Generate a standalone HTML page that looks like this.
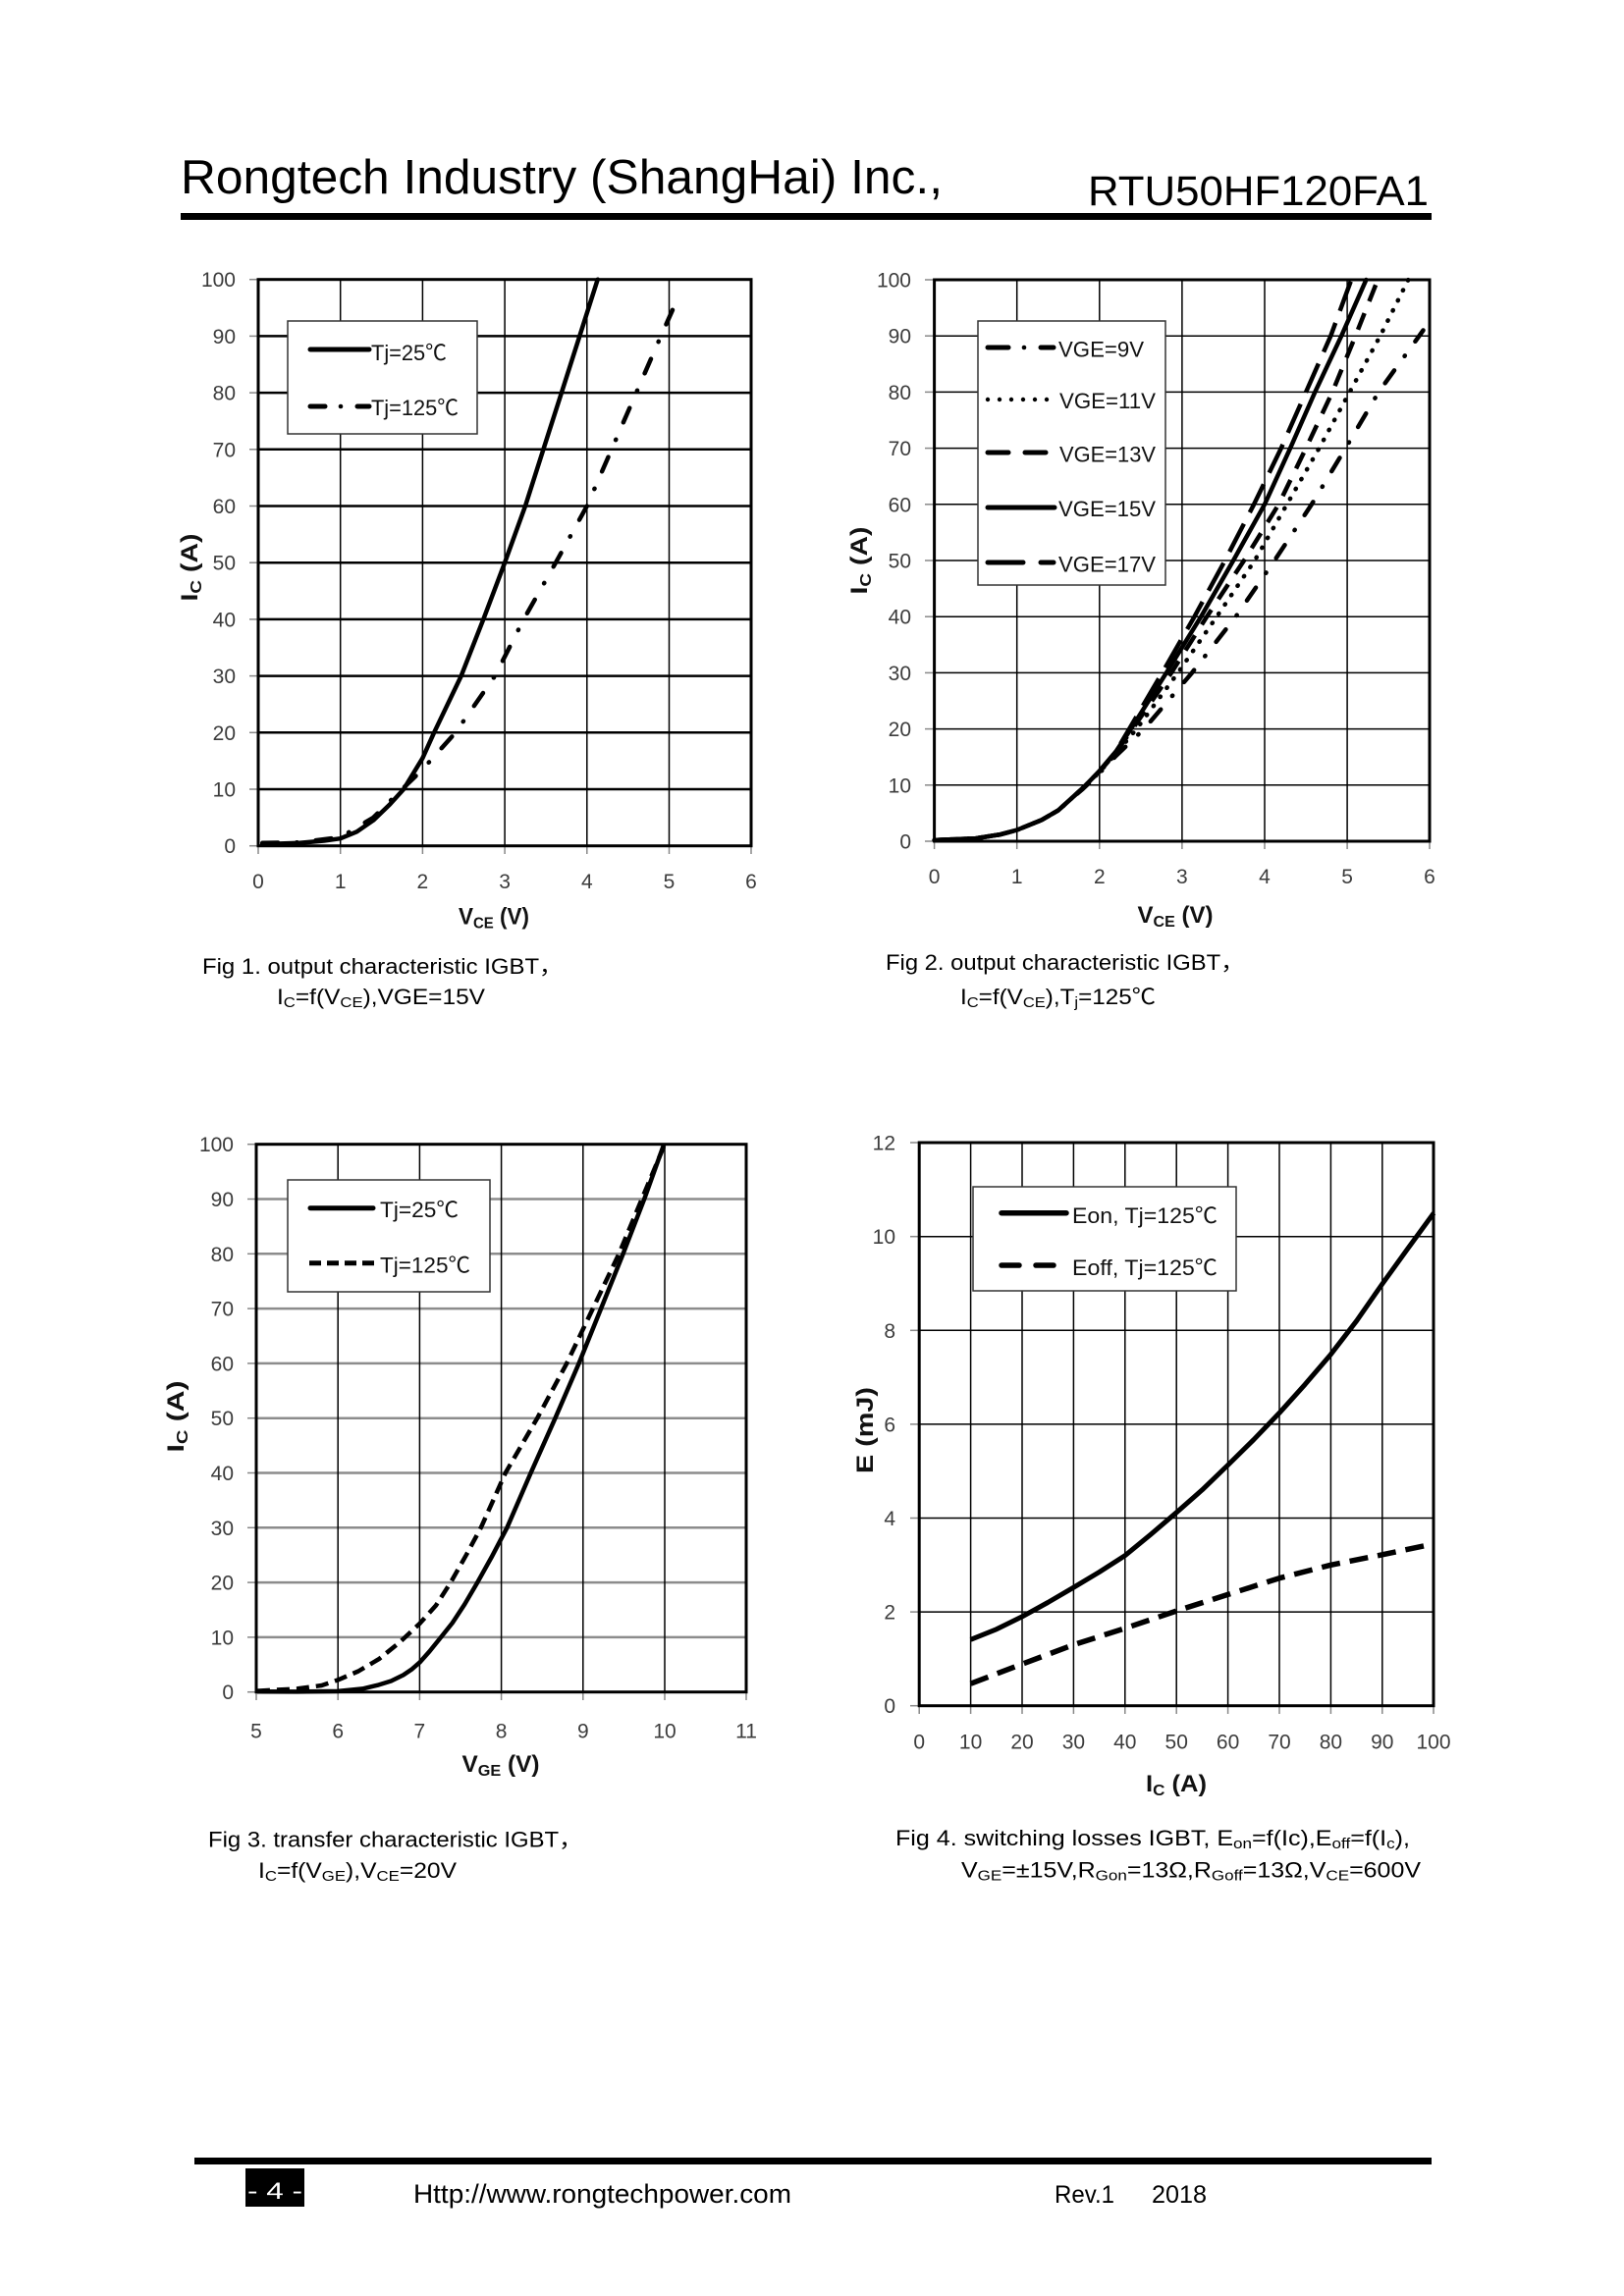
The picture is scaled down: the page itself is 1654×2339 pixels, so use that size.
<!DOCTYPE html>
<html><head><meta charset="utf-8"><style>
html,body{margin:0;padding:0;background:#fff;}
svg{display:block;}
text{font-family:"Liberation Sans","Noto Sans CJK SC",sans-serif;}
.tk{font-size:21px;fill:#3c3c3c;}
.tr{text-anchor:end;}
.tm{text-anchor:middle;}
.ax{font-size:24px;font-weight:bold;fill:#111;}
.cap{font-size:22px;fill:#000;}
.lg{font-size:22px;fill:#111;}
</style></head><body>
<svg width="1654" height="2339" viewBox="0 0 1654 2339" xmlns="http://www.w3.org/2000/svg">
<rect x="0" y="0" width="1654" height="2339" fill="#fff"/>

<!-- Header -->
<text x="184" y="197" font-size="49" textLength="776" lengthAdjust="spacingAndGlyphs">Rongtech Industry (ShangHai) Inc.,</text>
<text x="1108" y="209" font-size="43" textLength="347" lengthAdjust="spacingAndGlyphs">RTU50HF120FA1</text>
<rect x="184" y="217" width="1274" height="7" fill="#000"/>

<!-- ================= FIG 1 ================= -->
<g>
<g stroke="#000" stroke-width="2.5">
<line x1="263" y1="804.0" x2="765" y2="804.0"/><line x1="263" y1="746.3" x2="765" y2="746.3"/>
<line x1="263" y1="688.6" x2="765" y2="688.6"/><line x1="263" y1="630.9" x2="765" y2="630.9"/>
<line x1="263" y1="573.2" x2="765" y2="573.2"/><line x1="263" y1="515.5" x2="765" y2="515.5"/>
<line x1="263" y1="457.8" x2="765" y2="457.8"/><line x1="263" y1="400.1" x2="765" y2="400.1"/>
<line x1="263" y1="342.4" x2="765" y2="342.4"/>
</g>
<g stroke="#000" stroke-width="1.5">
<line x1="346.7" y1="284.7" x2="346.7" y2="861.7"/><line x1="430.4" y1="284.7" x2="430.4" y2="861.7"/>
<line x1="514.1" y1="284.7" x2="514.1" y2="861.7"/><line x1="597.8" y1="284.7" x2="597.8" y2="861.7"/>
<line x1="681.5" y1="284.7" x2="681.5" y2="861.7"/>
</g>
<g stroke="#888" stroke-width="1.5">
<line x1="254" y1="861.7" x2="263" y2="861.7"/><line x1="254" y1="804.0" x2="263" y2="804.0"/><line x1="254" y1="746.3" x2="263" y2="746.3"/><line x1="254" y1="688.6" x2="263" y2="688.6"/><line x1="254" y1="630.9" x2="263" y2="630.9"/><line x1="254" y1="573.2" x2="263" y2="573.2"/><line x1="254" y1="515.5" x2="263" y2="515.5"/><line x1="254" y1="457.8" x2="263" y2="457.8"/><line x1="254" y1="400.1" x2="263" y2="400.1"/><line x1="254" y1="342.4" x2="263" y2="342.4"/><line x1="254" y1="284.7" x2="263" y2="284.7"/>
<line x1="263" y1="861.7" x2="263" y2="870"/><line x1="346.7" y1="861.7" x2="346.7" y2="870"/><line x1="430.4" y1="861.7" x2="430.4" y2="870"/><line x1="514.1" y1="861.7" x2="514.1" y2="870"/><line x1="597.8" y1="861.7" x2="597.8" y2="870"/><line x1="681.5" y1="861.7" x2="681.5" y2="870"/><line x1="765" y1="861.7" x2="765" y2="870"/>
</g>
<rect x="263" y="284.7" width="502" height="577" fill="none" stroke="#000" stroke-width="3"/>
<!-- legend -->
<rect x="293" y="327" width="193" height="115" fill="#fff" stroke="#333" stroke-width="1.5"/>
<line x1="316" y1="356" x2="376" y2="356" stroke="#000" stroke-width="5" stroke-linecap="round"/>
<text class="lg" x="378" y="367" textLength="77" lengthAdjust="spacingAndGlyphs">Tj=25℃</text>
<line x1="316" y1="414" x2="331" y2="414" stroke="#000" stroke-width="5" stroke-linecap="round"/>
<circle cx="347" cy="414" r="2.3" fill="#000"/>
<line x1="364" y1="414" x2="376" y2="414" stroke="#000" stroke-width="5" stroke-linecap="round"/>
<text class="lg" x="378" y="423" textLength="89" lengthAdjust="spacingAndGlyphs">Tj=125℃</text>
<!-- curves -->
<polyline fill="none" stroke="#000" stroke-width="4.5" stroke-linejoin="round" stroke-linecap="round" points="267.2,860.0 304.9,858.8 330.0,856.5 346.7,854.2 363.4,847.3 380.2,835.7 396.9,819.6 411.1,804.0 430.4,772.3 442.1,746.3 469.7,688.6 492.3,630.9 514.1,573.2 535.0,515.5 553.4,457.8 571.9,400.1 590.3,342.4 608.7,284.7"/>
<polyline fill="none" stroke="#000" stroke-width="4.5" stroke-linejoin="round" stroke-linecap="round" stroke-dasharray="16 19 0.5 19" points="267.2,858.8 304.9,858.2 346.7,853.0 380.2,832.9 409.5,804.0 430.4,783.8 463.9,746.3 504.1,688.6 533.4,630.9 566.0,573.2 597.8,515.5 622.9,457.8 648.0,400.1 673.1,342.4 692.4,299.1"/>
<!-- labels -->
<g class="tk tr">
<text x="240" y="869.2">0</text><text x="240" y="811.5">10</text><text x="240" y="753.8">20</text><text x="240" y="696.1">30</text><text x="240" y="638.4">40</text><text x="240" y="580.7">50</text><text x="240" y="523">60</text><text x="240" y="465.3">70</text><text x="240" y="407.6">80</text><text x="240" y="349.9">90</text><text x="240" y="292.2">100</text>
</g>
<g class="tk tm">
<text x="263" y="905">0</text><text x="346.7" y="905">1</text><text x="430.4" y="905">2</text><text x="514.1" y="905">3</text><text x="597.8" y="905">4</text><text x="681.5" y="905">5</text><text x="765" y="905">6</text>
</g>
<text class="ax tm" x="503" y="941.7" textLength="72" lengthAdjust="spacingAndGlyphs">V<tspan font-size="16" dy="4">CE</tspan><tspan dy="-4"> (V)</tspan></text>
<text class="ax tm" transform="translate(201,578) rotate(-90)" x="0" y="0" textLength="69" lengthAdjust="spacingAndGlyphs">I<tspan font-size="16" dy="4">C</tspan><tspan dy="-4"> (A)</tspan></text>
<text class="cap" x="206" y="992" textLength="367" lengthAdjust="spacingAndGlyphs">Fig 1. output characteristic IGBT，</text>
<text class="cap" x="282" y="1023" textLength="212" lengthAdjust="spacingAndGlyphs">I<tspan font-size="15" dy="3">C</tspan><tspan dy="-3">=f(V</tspan><tspan font-size="15" dy="3">CE</tspan><tspan dy="-3">),VGE=15V</tspan></text>
</g>

<!-- ================= FIG 2 ================= -->
<g>
<g stroke="#000" stroke-width="1.5">
<line x1="951.6" y1="799.8" x2="1456" y2="799.8"/><line x1="951.6" y1="742.6" x2="1456" y2="742.6"/>
<line x1="951.6" y1="685.4" x2="1456" y2="685.4"/><line x1="951.6" y1="628.2" x2="1456" y2="628.2"/>
<line x1="951.6" y1="571.0" x2="1456" y2="571.0"/><line x1="951.6" y1="513.8" x2="1456" y2="513.8"/>
<line x1="951.6" y1="456.6" x2="1456" y2="456.6"/><line x1="951.6" y1="399.4" x2="1456" y2="399.4"/>
<line x1="951.6" y1="342.2" x2="1456" y2="342.2"/>
<line x1="1035.7" y1="285" x2="1035.7" y2="857"/><line x1="1119.8" y1="285" x2="1119.8" y2="857"/>
<line x1="1203.9" y1="285" x2="1203.9" y2="857"/><line x1="1288.0" y1="285" x2="1288.0" y2="857"/>
<line x1="1372.1" y1="285" x2="1372.1" y2="857"/>
</g>
<g stroke="#888" stroke-width="1.5">
<line x1="942" y1="857" x2="951.6" y2="857"/><line x1="942" y1="799.8" x2="951.6" y2="799.8"/><line x1="942" y1="742.6" x2="951.6" y2="742.6"/><line x1="942" y1="685.4" x2="951.6" y2="685.4"/><line x1="942" y1="628.2" x2="951.6" y2="628.2"/><line x1="942" y1="571.0" x2="951.6" y2="571.0"/><line x1="942" y1="513.8" x2="951.6" y2="513.8"/><line x1="942" y1="456.6" x2="951.6" y2="456.6"/><line x1="942" y1="399.4" x2="951.6" y2="399.4"/><line x1="942" y1="342.2" x2="951.6" y2="342.2"/><line x1="942" y1="285" x2="951.6" y2="285"/>
<line x1="951.6" y1="857" x2="951.6" y2="865"/><line x1="1035.7" y1="857" x2="1035.7" y2="865"/><line x1="1119.8" y1="857" x2="1119.8" y2="865"/><line x1="1203.9" y1="857" x2="1203.9" y2="865"/><line x1="1288.0" y1="857" x2="1288.0" y2="865"/><line x1="1372.1" y1="857" x2="1372.1" y2="865"/><line x1="1456" y1="857" x2="1456" y2="865"/>
</g>
<rect x="951.6" y="285" width="504.4" height="572" fill="none" stroke="#000" stroke-width="3"/>
<!-- legend -->
<rect x="996" y="327" width="191" height="269" fill="#fff" stroke="#333" stroke-width="1.5"/>
<g stroke="#000" stroke-width="5" stroke-linecap="round">
<line x1="1006" y1="354" x2="1027" y2="354"/><line x1="1060" y1="354" x2="1073" y2="354"/>
<line x1="1006" y1="461" x2="1027" y2="461"/><line x1="1044" y1="461" x2="1065" y2="461"/>
<line x1="1006" y1="517" x2="1074" y2="517"/>
<line x1="1006" y1="573" x2="1042" y2="573"/><line x1="1060" y1="573" x2="1073" y2="573"/>
</g>
<g fill="#000">
<circle cx="1043" cy="354" r="2.3"/>
<circle cx="1006" cy="407" r="2.2"/><circle cx="1018" cy="407" r="2.2"/><circle cx="1030" cy="407" r="2.2"/><circle cx="1042" cy="407" r="2.2"/><circle cx="1054" cy="407" r="2.2"/><circle cx="1066" cy="407" r="2.2"/>
</g>
<text class="lg" x="1078" y="363.3" textLength="87" lengthAdjust="spacingAndGlyphs">VGE=9V</text>
<text class="lg" x="1079" y="416" textLength="98" lengthAdjust="spacingAndGlyphs">VGE=11V</text>
<text class="lg" x="1079" y="470.7" textLength="98" lengthAdjust="spacingAndGlyphs">VGE=13V</text>
<text class="lg" x="1078" y="526" textLength="99" lengthAdjust="spacingAndGlyphs">VGE=15V</text>
<text class="lg" x="1078" y="582.7" textLength="99" lengthAdjust="spacingAndGlyphs">VGE=17V</text>
<!-- curves -->
<g fill="none" stroke="#000" stroke-width="4.5" stroke-linejoin="round">
<polyline stroke-linecap="round" stroke-dasharray="16 18 0.5 18" points="951.6,855.9 993.7,854.1 1018.9,850.1 1035.7,845.6 1060.9,835.3 1077.8,825.5 1103.0,803.5 1119.8,787.5 1136.6,770 1165.2,742.6 1214.0,685.4 1258.6,628.2 1298.1,571.0 1335.9,513.8 1370.4,456.6 1404.1,399.4 1449.5,336.5"/>
<polyline stroke-linecap="round" stroke-dasharray="0.5 11" points="951.6,855.9 993.7,854.1 1018.9,850.1 1035.7,845.6 1060.9,835.3 1077.8,825.5 1103.0,803 1119.8,786.5 1136.6,767.5 1157.6,742.6 1199.7,685.4 1239.2,628.2 1277.9,571.0 1310.7,513.8 1343.5,456.6 1374.6,399.4 1405.7,342.2 1434.3,285.0"/>
<polyline stroke-linecap="butt" stroke-dasharray="18 13" points="951.6,855.9 993.7,854.1 1018.9,850.1 1035.7,845.6 1060.9,835.3 1077.8,825.5 1103.0,802.7 1119.8,786 1136.6,766.5 1153.4,742.6 1193.0,685.4 1229.1,628.2 1267.0,571.0 1302.3,513.8 1330.1,456.6 1357.0,399.4 1380.5,342.2 1403.2,285.0"/>
<polyline stroke-linecap="butt" stroke-dasharray="32 13" points="951.6,855.9 993.7,854.1 1018.9,850.1 1035.7,845.6 1060.9,835.3 1077.8,825.5 1103.0,802.7 1119.8,785.5 1136.6,765.5 1150.1,742.6 1183.7,685.4 1216.5,628.2 1247.6,571.0 1277.1,513.8 1304.8,456.6 1330.1,399.4 1355.3,342.2 1376.3,285.0"/>
<polyline stroke-linecap="round" points="951.6,855.9 993.7,854.1 1018.9,850.1 1035.7,845.6 1060.9,835.3 1077.8,825.5 1103.0,802.7 1119.8,785.5 1136.6,765.5 1151.8,742.6 1187.9,685.4 1223.2,628.2 1256.1,571.0 1288.0,513.8 1314.1,456.6 1339.3,399.4 1366.2,342.2 1391.4,285.0"/>
</g>
<g class="tk tr">
<text x="928" y="864.5">0</text><text x="928" y="807.3">10</text><text x="928" y="750.1">20</text><text x="928" y="692.9">30</text><text x="928" y="635.7">40</text><text x="928" y="578.5">50</text><text x="928" y="521.3">60</text><text x="928" y="464.1">70</text><text x="928" y="406.9">80</text><text x="928" y="349.7">90</text><text x="928" y="292.5">100</text>
</g>
<g class="tk tm">
<text x="951.6" y="900">0</text><text x="1035.7" y="900">1</text><text x="1119.8" y="900">2</text><text x="1203.9" y="900">3</text><text x="1288.0" y="900">4</text><text x="1372.1" y="900">5</text><text x="1456" y="900">6</text>
</g>
<text class="ax tm" x="1197" y="940" textLength="77" lengthAdjust="spacingAndGlyphs">V<tspan font-size="16" dy="4">CE</tspan><tspan dy="-4"> (V)</tspan></text>
<text class="ax tm" transform="translate(883,571) rotate(-90)" x="0" y="0" textLength="69" lengthAdjust="spacingAndGlyphs">I<tspan font-size="16" dy="4">C</tspan><tspan dy="-4"> (A)</tspan></text>
<text class="cap" x="902" y="988" textLength="365" lengthAdjust="spacingAndGlyphs">Fig 2. output characteristic IGBT，</text>
<text class="cap" x="978" y="1023" textLength="199" lengthAdjust="spacingAndGlyphs">I<tspan font-size="15" dy="3">C</tspan><tspan dy="-3">=f(V</tspan><tspan font-size="15" dy="3">CE</tspan><tspan dy="-3">),T</tspan><tspan font-size="15" dy="3">j</tspan><tspan dy="-3">=125℃</tspan></text>
</g>

<!-- ================= FIG 3 ================= -->
<g>
<g stroke="#8c8c8c" stroke-width="2.5">
<line x1="261" y1="1667.9" x2="760" y2="1667.9"/><line x1="261" y1="1612.1" x2="760" y2="1612.1"/>
<line x1="261" y1="1556.3" x2="760" y2="1556.3"/><line x1="261" y1="1500.5" x2="760" y2="1500.5"/>
<line x1="261" y1="1444.7" x2="760" y2="1444.7"/><line x1="261" y1="1388.9" x2="760" y2="1388.9"/>
<line x1="261" y1="1333.1" x2="760" y2="1333.1"/><line x1="261" y1="1277.3" x2="760" y2="1277.3"/>
<line x1="261" y1="1221.5" x2="760" y2="1221.5"/>
</g>
<g stroke="#000" stroke-width="1.5">
<line x1="344.2" y1="1165.7" x2="344.2" y2="1723.7"/><line x1="427.4" y1="1165.7" x2="427.4" y2="1723.7"/>
<line x1="510.6" y1="1165.7" x2="510.6" y2="1723.7"/><line x1="593.8" y1="1165.7" x2="593.8" y2="1723.7"/>
<line x1="677.0" y1="1165.7" x2="677.0" y2="1723.7"/>
</g>
<g stroke="#888" stroke-width="1.5">
<line x1="252" y1="1723.7" x2="261" y2="1723.7"/><line x1="252" y1="1667.9" x2="261" y2="1667.9"/><line x1="252" y1="1612.1" x2="261" y2="1612.1"/><line x1="252" y1="1556.3" x2="261" y2="1556.3"/><line x1="252" y1="1500.5" x2="261" y2="1500.5"/><line x1="252" y1="1444.7" x2="261" y2="1444.7"/><line x1="252" y1="1388.9" x2="261" y2="1388.9"/><line x1="252" y1="1333.1" x2="261" y2="1333.1"/><line x1="252" y1="1277.3" x2="261" y2="1277.3"/><line x1="252" y1="1221.5" x2="261" y2="1221.5"/><line x1="252" y1="1165.7" x2="261" y2="1165.7"/>
<line x1="261" y1="1723.7" x2="261" y2="1732"/><line x1="344.2" y1="1723.7" x2="344.2" y2="1732"/><line x1="427.4" y1="1723.7" x2="427.4" y2="1732"/><line x1="510.6" y1="1723.7" x2="510.6" y2="1732"/><line x1="593.8" y1="1723.7" x2="593.8" y2="1732"/><line x1="677.0" y1="1723.7" x2="677.0" y2="1732"/><line x1="760" y1="1723.7" x2="760" y2="1732"/>
</g>
<rect x="261" y="1165.7" width="499" height="558" fill="none" stroke="#000" stroke-width="3"/>
<!-- legend -->
<rect x="293" y="1202" width="206" height="114" fill="#fff" stroke="#333" stroke-width="1.5"/>
<line x1="316" y1="1230.7" x2="380" y2="1230.7" stroke="#000" stroke-width="5" stroke-linecap="round"/>
<text class="lg" x="387" y="1240" textLength="80" lengthAdjust="spacingAndGlyphs">Tj=25℃</text>
<line x1="315" y1="1286.7" x2="381" y2="1286.7" stroke="#000" stroke-width="5" stroke-dasharray="12 6"/>
<text class="lg" x="387" y="1296.7" textLength="92" lengthAdjust="spacingAndGlyphs">Tj=125℃</text>
<!-- curves -->
<polyline fill="none" stroke="#000" stroke-width="4.5" stroke-linejoin="round" stroke-dasharray="13 7" points="262,1722.6 302.6,1720.4 327.6,1717.0 344.2,1711.4 365.0,1702.5 385.8,1690.2 406.6,1673.5 427.4,1654.0 444.0,1635.5 459.0,1612.1 474.8,1584.2 489.8,1556.3 502.3,1528.4 514.8,1500.5 547.2,1444.7 577.2,1388.9 603.8,1333.1 630.4,1277.3 653.7,1221.5 677.0,1165.7"/>
<polyline fill="none" stroke="#000" stroke-width="4.5" stroke-linejoin="round" points="262,1723.2 302.6,1723.4 344.2,1722.9 369.2,1720.4 385.8,1716.4 398.3,1712.5 410.8,1706.4 419.1,1700.8 427.4,1693.6 437.4,1682.4 448.2,1669.0 460.7,1653.4 473.2,1634.4 485.6,1613.2 500.6,1586.4 516.4,1556.3 540.6,1500.5 565.5,1444.7 589.6,1388.9 612.1,1333.1 634.6,1277.3 656.2,1221.5 676.2,1165.7"/>
<g class="tk tr">
<text x="238" y="1731.2">0</text><text x="238" y="1675.4">10</text><text x="238" y="1619.6">20</text><text x="238" y="1563.8">30</text><text x="238" y="1508.0">40</text><text x="238" y="1452.2">50</text><text x="238" y="1396.4">60</text><text x="238" y="1340.6">70</text><text x="238" y="1284.8">80</text><text x="238" y="1229.0">90</text><text x="238" y="1173.2">100</text>
</g>
<g class="tk tm">
<text x="261" y="1770.7">5</text><text x="344.2" y="1770.7">6</text><text x="427.4" y="1770.7">7</text><text x="510.6" y="1770.7">8</text><text x="593.8" y="1770.7">9</text><text x="677.0" y="1770.7">10</text><text x="760" y="1770.7">11</text>
</g>
<text class="ax tm" x="510" y="1805" textLength="79" lengthAdjust="spacingAndGlyphs">V<tspan font-size="16" dy="4">GE</tspan><tspan dy="-4"> (V)</tspan></text>
<text class="ax tm" transform="translate(187,1443) rotate(-90)" x="0" y="0" textLength="73" lengthAdjust="spacingAndGlyphs">I<tspan font-size="16" dy="4">C</tspan><tspan dy="-4"> (A)</tspan></text>
<text class="cap" x="212" y="1881.7" textLength="381" lengthAdjust="spacingAndGlyphs">Fig 3. transfer characteristic IGBT，</text>
<text class="cap" x="263" y="1913" textLength="202" lengthAdjust="spacingAndGlyphs">I<tspan font-size="15" dy="3">C</tspan><tspan dy="-3">=f(V</tspan><tspan font-size="15" dy="3">GE</tspan><tspan dy="-3">),V</tspan><tspan font-size="15" dy="3">CE</tspan><tspan dy="-3">=20V</tspan></text>
</g>

<!-- ================= FIG 4 ================= -->
<g>
<g stroke="#000" stroke-width="1.5">
<line x1="936.2" y1="1642.1" x2="1460" y2="1642.1"/><line x1="936.2" y1="1546.5" x2="1460" y2="1546.5"/>
<line x1="936.2" y1="1450.9" x2="1460" y2="1450.9"/><line x1="936.2" y1="1355.3" x2="1460" y2="1355.3"/>
<line x1="936.2" y1="1259.7" x2="1460" y2="1259.7"/>
<line x1="988.6" y1="1164" x2="988.6" y2="1737.7"/><line x1="1041.0" y1="1164" x2="1041.0" y2="1737.7"/>
<line x1="1093.4" y1="1164" x2="1093.4" y2="1737.7"/><line x1="1145.8" y1="1164" x2="1145.8" y2="1737.7"/>
<line x1="1198.2" y1="1164" x2="1198.2" y2="1737.7"/><line x1="1250.6" y1="1164" x2="1250.6" y2="1737.7"/>
<line x1="1303.0" y1="1164" x2="1303.0" y2="1737.7"/><line x1="1355.4" y1="1164" x2="1355.4" y2="1737.7"/>
<line x1="1407.8" y1="1164" x2="1407.8" y2="1737.7"/>
</g>
<g stroke="#888" stroke-width="1.5">
<line x1="927" y1="1737.7" x2="936.2" y2="1737.7"/><line x1="927" y1="1642.1" x2="936.2" y2="1642.1"/><line x1="927" y1="1546.5" x2="936.2" y2="1546.5"/><line x1="927" y1="1450.9" x2="936.2" y2="1450.9"/><line x1="927" y1="1355.3" x2="936.2" y2="1355.3"/><line x1="927" y1="1259.7" x2="936.2" y2="1259.7"/><line x1="927" y1="1164" x2="936.2" y2="1164"/>
<line x1="936.2" y1="1737.7" x2="936.2" y2="1746"/><line x1="988.6" y1="1737.7" x2="988.6" y2="1746"/><line x1="1041.0" y1="1737.7" x2="1041.0" y2="1746"/><line x1="1093.4" y1="1737.7" x2="1093.4" y2="1746"/><line x1="1145.8" y1="1737.7" x2="1145.8" y2="1746"/><line x1="1198.2" y1="1737.7" x2="1198.2" y2="1746"/><line x1="1250.6" y1="1737.7" x2="1250.6" y2="1746"/><line x1="1303.0" y1="1737.7" x2="1303.0" y2="1746"/><line x1="1355.4" y1="1737.7" x2="1355.4" y2="1746"/><line x1="1407.8" y1="1737.7" x2="1407.8" y2="1746"/><line x1="1460" y1="1737.7" x2="1460" y2="1746"/>
</g>
<rect x="936.2" y="1164" width="523.8" height="573.7" fill="none" stroke="#000" stroke-width="3"/>
<!-- legend -->
<rect x="991" y="1209" width="268" height="106" fill="#fff" stroke="#333" stroke-width="1.5"/>
<line x1="1020" y1="1235.7" x2="1086" y2="1235.7" stroke="#000" stroke-width="5.5" stroke-linecap="round"/>
<text class="lg" x="1092" y="1246" textLength="148" lengthAdjust="spacingAndGlyphs">Eon, Tj=125℃</text>
<line x1="1020" y1="1289" x2="1038" y2="1289" stroke="#000" stroke-width="5.5" stroke-linecap="round"/>
<line x1="1055" y1="1289" x2="1073" y2="1289" stroke="#000" stroke-width="5.5" stroke-linecap="round"/>
<text class="lg" x="1092" y="1299" textLength="148" lengthAdjust="spacingAndGlyphs">Eoff, Tj=125℃</text>
<!-- curves -->
<polyline fill="none" stroke="#000" stroke-width="5" stroke-linejoin="round" points="988.6,1670.3 1014.8,1659.8 1041.0,1646.9 1067.2,1632.5 1093.4,1617.2 1119.6,1601.5 1145.8,1584.7 1172.0,1563.2 1198.2,1540.8 1224.4,1517.8 1250.6,1492.5 1276.8,1466.7 1303.0,1439.4 1329.2,1410.3 1355.4,1379.7 1381.6,1345.7 1407.8,1308.0 1434.0,1271.7 1460.2,1235.8"/>
<polyline fill="none" stroke="#000" stroke-width="5.5" stroke-linejoin="round" stroke-dasharray="19 10" points="988.6,1715.2 1041.0,1695.2 1093.4,1675.6 1145.8,1658.8 1198.2,1641.1 1250.6,1624.4 1303.0,1607.7 1355.4,1594.3 1407.8,1583.8 1460.2,1572.8"/>
<g class="tk tr">
<text x="912" y="1745.2">0</text><text x="912" y="1649.6">2</text><text x="912" y="1554.0">4</text><text x="912" y="1458.4">6</text><text x="912" y="1362.8">8</text><text x="912" y="1267.2">10</text><text x="912" y="1171.6">12</text>
</g>
<g class="tk tm">
<text x="936.2" y="1781.7">0</text><text x="988.6" y="1781.7">10</text><text x="1041.0" y="1781.7">20</text><text x="1093.4" y="1781.7">30</text><text x="1145.8" y="1781.7">40</text><text x="1198.2" y="1781.7">50</text><text x="1250.6" y="1781.7">60</text><text x="1303.0" y="1781.7">70</text><text x="1355.4" y="1781.7">80</text><text x="1407.8" y="1781.7">90</text><text x="1460" y="1781.7">100</text>
</g>
<text class="ax tm" x="1198" y="1825" textLength="62" lengthAdjust="spacingAndGlyphs">I<tspan font-size="16" dy="4">C</tspan><tspan dy="-4"> (A)</tspan></text>
<text class="ax tm" transform="translate(889,1457) rotate(-90)" x="0" y="0" textLength="88" lengthAdjust="spacingAndGlyphs">E (mJ)</text>
<text class="cap" x="912" y="1880" textLength="524" lengthAdjust="spacingAndGlyphs">Fig 4. switching losses IGBT, E<tspan font-size="15" dy="3">on</tspan><tspan dy="-3">=f(Ic),E</tspan><tspan font-size="15" dy="3">off</tspan><tspan dy="-3">=f(I</tspan><tspan font-size="15" dy="3">c</tspan><tspan dy="-3">),</tspan></text>
<text class="cap" x="979" y="1912.7" textLength="468" lengthAdjust="spacingAndGlyphs">V<tspan font-size="15" dy="3">GE</tspan><tspan dy="-3">=±15V,R</tspan><tspan font-size="15" dy="3">Gon</tspan><tspan dy="-3">=13Ω,R</tspan><tspan font-size="15" dy="3">Goff</tspan><tspan dy="-3">=13Ω,V</tspan><tspan font-size="15" dy="3">CE</tspan><tspan dy="-3">=600V</tspan></text>
</g>

<!-- Footer -->
<rect x="198" y="2198" width="1260" height="7" fill="#000"/>
<rect x="250" y="2209" width="60" height="39" fill="#000"/>
<text x="280" y="2240" font-size="24" fill="#fff" text-anchor="middle" textLength="56" lengthAdjust="spacingAndGlyphs">- 4 -</text>
<text x="421" y="2244" font-size="27" textLength="385" lengthAdjust="spacingAndGlyphs">Http://www.rongtechpower.com</text>
<text x="1074" y="2244" font-size="25" textLength="61" lengthAdjust="spacingAndGlyphs">Rev.1</text>
<text x="1173" y="2244" font-size="25" textLength="56" lengthAdjust="spacingAndGlyphs">2018</text>
</svg>
</body></html>
